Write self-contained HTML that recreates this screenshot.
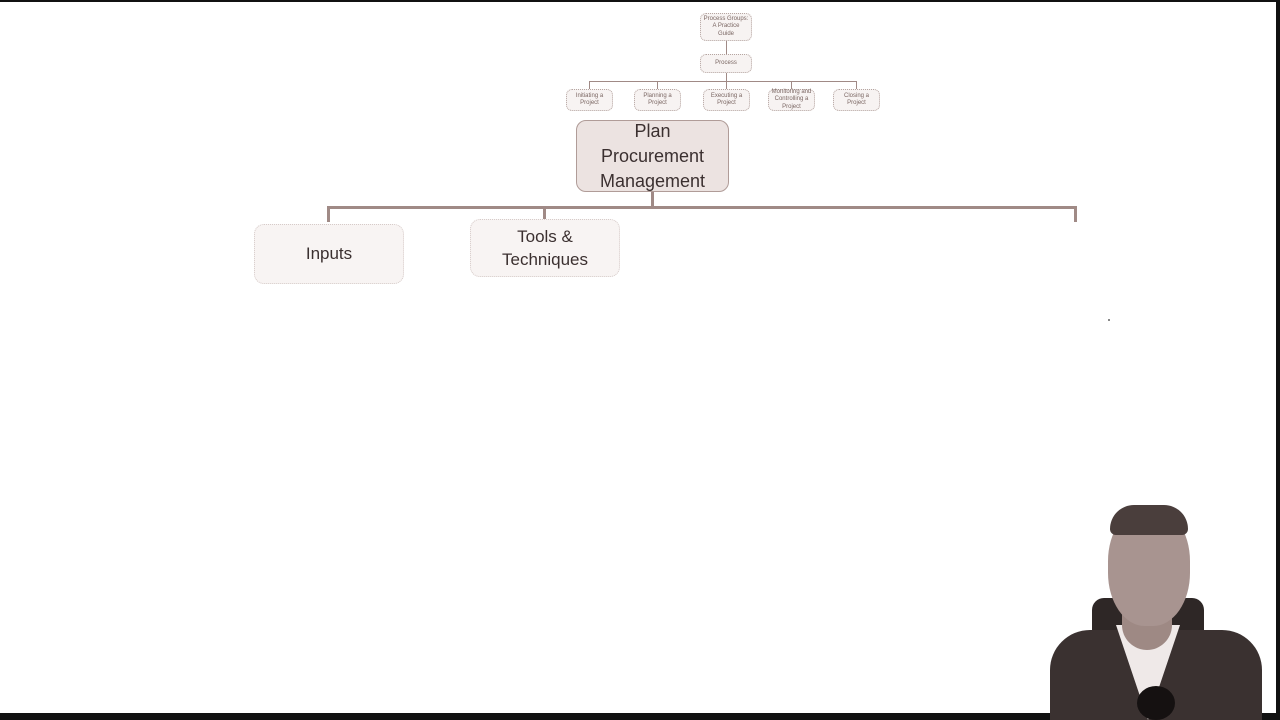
<!DOCTYPE html>
<html><head><meta charset="utf-8"><style>
html,body{margin:0;padding:0;}
body{width:1280px;height:720px;position:relative;background:#fff;overflow:hidden;font-family:"Liberation Sans",sans-serif;}
.b{position:absolute;box-sizing:border-box;border:1px dotted #b5a5a1;border-radius:6px;background:#f7f3f2;color:#7a6662;font-size:6px;display:flex;align-items:center;justify-content:center;text-align:center;line-height:1.2;}
.l{position:absolute;background:#a08a86;}
.m{position:absolute;box-sizing:border-box;display:flex;align-items:center;justify-content:center;text-align:center;color:#3b3030;}
</style></head><body>
<div style="position:absolute;left:0;top:0;width:1280px;height:2px;background:#111"></div>
<div style="position:absolute;left:0;top:713px;width:1280px;height:7px;background:#111"></div>
<div style="position:absolute;left:1276px;top:0;width:4px;height:720px;background:#111"></div>

<div class="b" style="left:700px;top:13px;width:52px;height:28px">Process Groups:<br>A Practice<br>Guide</div>
<div class="l" style="left:726px;top:41px;width:1px;height:13px"></div>
<div class="b" style="left:700px;top:54px;width:52px;height:19px">Process</div>
<div class="l" style="left:726px;top:73px;width:1px;height:8px"></div>
<div class="l" style="left:589px;top:81px;width:268px;height:1px"></div>
<div class="l" style="left:589px;top:81px;width:1px;height:8px"></div>
<div class="l" style="left:657px;top:81px;width:1px;height:8px"></div>
<div class="l" style="left:726px;top:81px;width:1px;height:8px"></div>
<div class="l" style="left:791px;top:81px;width:1px;height:8px"></div>
<div class="l" style="left:856px;top:81px;width:1px;height:8px"></div>
<div class="b" style="left:566px;top:89px;width:47px;height:22px">Initiating a Project</div>
<div class="b" style="left:634px;top:89px;width:47px;height:22px">Planning a Project</div>
<div class="b" style="left:703px;top:89px;width:47px;height:22px">Executing a<br>Project</div>
<div class="b" style="left:768px;top:89px;width:47px;height:22px">Monitoring and<br>Controlling a<br>Project</div>
<div class="b" style="left:833px;top:89px;width:47px;height:22px">Closing a Project</div>

<div class="m" style="left:576px;top:120px;width:153px;height:72px;border:1px solid #b09c98;border-radius:10px;background:#ece3e1;font-size:18px;line-height:25px">Plan<br>Procurement<br>Management</div>
<div class="l" style="left:651px;top:192px;width:3px;height:15px"></div>
<div class="l" style="left:327px;top:206px;width:750px;height:3px"></div>
<div class="l" style="left:327px;top:206px;width:3px;height:16px"></div>
<div class="l" style="left:543px;top:206px;width:3px;height:14px"></div>
<div class="l" style="left:1074px;top:206px;width:3px;height:16px"></div>
<div class="m" style="left:254px;top:224px;width:150px;height:60px;border:1px dotted #d6cbc9;border-radius:10px;background:#f8f4f3;font-size:17px">Inputs</div>
<div class="m" style="left:470px;top:219px;width:150px;height:58px;border:1px dotted #d6cbc9;border-radius:10px;background:#f8f4f3;font-size:17px;line-height:23px">Tools &amp;<br>Techniques</div>
<div style="position:absolute;left:1108px;top:319px;width:2px;height:2px;background:#888"></div>

<!-- presenter -->
<div style="position:absolute;left:1092px;top:598px;width:112px;height:50px;background:#2e2726;border-radius:12px"></div>
<div style="position:absolute;left:1050px;top:630px;width:212px;height:90px;background:#3a3130;border-radius:40px 40px 0 0"></div>
<div style="position:absolute;left:1116px;top:625px;width:0;height:0;border-left:32px solid transparent;border-right:32px solid transparent;border-top:95px solid #efe9e8"></div>
<div style="position:absolute;left:1122px;top:610px;width:50px;height:40px;background:#9e8984;border-radius:0 0 25px 25px"></div>
<div style="position:absolute;left:1108px;top:508px;width:82px;height:118px;background:#a89490;border-radius:45% 45% 45% 45%"></div>
<div style="position:absolute;left:1110px;top:505px;width:78px;height:30px;background:#4a3e3c;border-radius:40px 40px 10px 10px"></div>
<div style="position:absolute;left:1137px;top:686px;width:38px;height:34px;background:#151111;border-radius:50%"></div>
</body></html>
